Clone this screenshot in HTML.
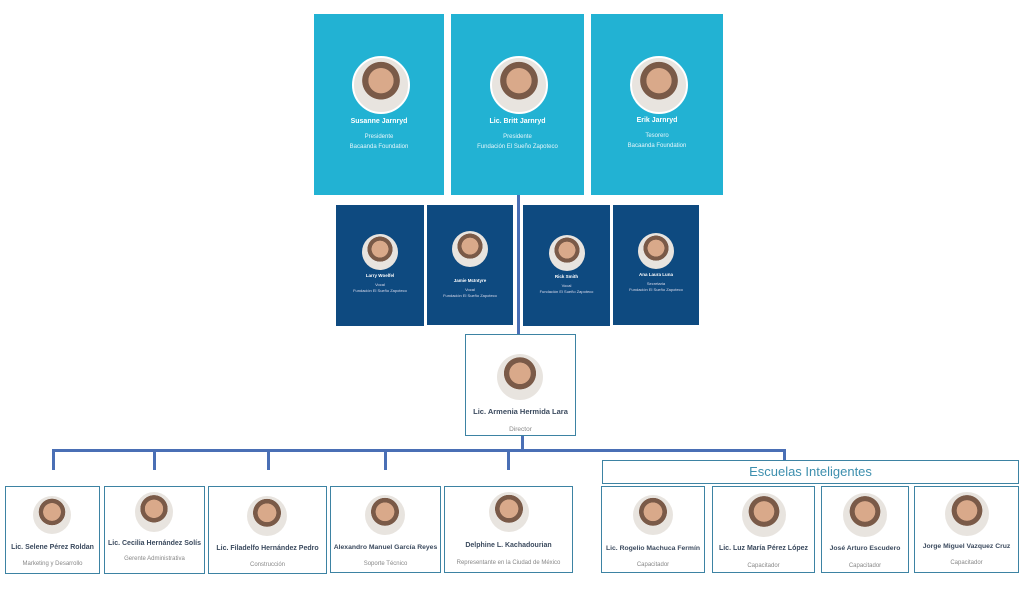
<!DOCTYPE html>
<html><head><meta charset="utf-8"><style>
body{margin:0;width:1024px;height:598px;background:#fff;position:relative;overflow:hidden;font-family:"Liberation Sans",sans-serif}
.a{position:absolute;box-sizing:border-box}
.t{background:#22b2d3;color:#fff;text-align:center}
.d{background:#0e4a80;color:#fff;text-align:center}
.w{border:1.5px solid #3d83a3;background:#fff;text-align:center}
.av{position:absolute;border-radius:50%;background:radial-gradient(circle at 50% 42%,#d9a98a 0 30%,#7a5a48 31% 45%,#e8e4df 46%);border:2px solid #fff}
.ln{position:absolute;background:#4a6fb5}
.n{position:absolute;left:0;right:0;font-weight:bold;color:#3b4a5e;font-size:7.5px;white-space:nowrap}
.s{position:absolute;left:0;right:0;color:#888;font-size:6.5px;white-space:nowrap}
</style></head><body>
<!-- top cards -->
<div class="a t" style="left:314px;top:14px;width:130px;height:181px"><div class="av" style="left:38px;top:42px;width:54px;height:54px"></div><div class="n" style="top:104px;color:#fff;font-size:7px">Susanne Jarnryd</div><div class="s" style="top:118px;color:#e6f6fb;font-size:6px;line-height:10px">Presidente<br>Bacaanda Foundation</div></div>
<div class="a t" style="left:451px;top:14px;width:133px;height:181px"><div class="av" style="left:39px;top:42px;width:54px;height:54px"></div><div class="n" style="top:104px;color:#fff;font-size:7px">Lic. Britt Jarnryd</div><div class="s" style="top:118px;color:#e6f6fb;font-size:6px;line-height:10px">Presidente<br>Fundación El Sueño Zapoteco</div></div>
<div class="a t" style="left:591px;top:14px;width:132px;height:181px"><div class="av" style="left:39px;top:42px;width:54px;height:54px"></div><div class="n" style="top:103px;color:#fff;font-size:7px">Erik Jarnryd</div><div class="s" style="top:117px;color:#e6f6fb;font-size:6px;line-height:10px">Tesorero<br>Bacaanda Foundation</div></div>
<!-- vertical line -->
<div class="ln" style="left:517px;top:195px;width:3px;height:140px"></div>
<!-- dark cards -->
<div class="a d" style="left:336px;top:205px;width:88px;height:121px"><div class="av" style="left:26px;top:29px;width:36px;height:36px;border:0"></div><div class="n" style="top:68px;color:#fff;font-size:4.5px">Larry Woelfel</div><div class="s" style="top:77px;color:#dde;font-size:4px;line-height:6px">Vocal<br>Fundación El Sueño Zapoteco</div></div>
<div class="a d" style="left:427px;top:205px;width:86px;height:120px"><div class="av" style="left:25px;top:26px;width:36px;height:36px;border:0"></div><div class="n" style="top:73px;color:#fff;font-size:4.5px">Jamie McIntyre</div><div class="s" style="top:82px;color:#dde;font-size:4px;line-height:6px">Vocal<br>Fundación El Sueño Zapoteco</div></div>
<div class="a d" style="left:523px;top:205px;width:87px;height:121px"><div class="av" style="left:26px;top:30px;width:36px;height:36px;border:0"></div><div class="n" style="top:69px;color:#fff;font-size:4.5px">Rick Smith</div><div class="s" style="top:78px;color:#dde;font-size:4px;line-height:6px">Vocal<br>Fundación El Sueño Zapoteco</div></div>
<div class="a d" style="left:613px;top:205px;width:86px;height:120px"><div class="av" style="left:25px;top:28px;width:36px;height:36px;border:0"></div><div class="n" style="top:67px;color:#fff;font-size:4.5px">Ana Laura Luna</div><div class="s" style="top:76px;color:#dde;font-size:4px;line-height:6px">Secretaria<br>Fundación El Sueño Zapoteco</div></div>
<!-- director -->
<div class="a w" style="left:465px;top:334px;width:111px;height:102px"><div class="av" style="left:31px;top:19px;width:46px;height:46px;border:0"></div><div class="n" style="top:72px">Lic. Armenia Hermida Lara</div><div class="s" style="top:91px">Director</div></div>
<!-- connectors -->
<div class="ln" style="left:521px;top:436px;width:3px;height:15px"></div>
<div class="ln" style="left:52px;top:449px;width:734px;height:3px"></div>
<div class="ln" style="left:52px;top:449px;width:3px;height:21px"></div>
<div class="ln" style="left:153px;top:449px;width:3px;height:21px"></div>
<div class="ln" style="left:267px;top:449px;width:3px;height:21px"></div>
<div class="ln" style="left:384px;top:449px;width:3px;height:21px"></div>
<div class="ln" style="left:507px;top:449px;width:3px;height:21px"></div>
<div class="ln" style="left:783px;top:449px;width:3px;height:12px"></div>
<!-- bottom row -->
<div class="a w" style="left:5px;top:486px;width:95px;height:88px"><div class="av" style="left:27px;top:9px;width:38px;height:38px;border:0"></div><div class="n" style="top:57px;font-size:7px">Lic. Selene Pérez Roldan</div><div class="s" style="top:74px;font-size:6px">Marketing y Desarrollo</div></div>
<div class="a w" style="left:104px;top:486px;width:101px;height:88px"><div class="av" style="left:30px;top:5px;width:38px;height:40px;border:0"></div><div class="n" style="top:53px;font-size:7px">Lic. Cecilia Hernández Solís</div><div class="s" style="top:69px;font-size:6px">Gerente Administrativa</div></div>
<div class="a w" style="left:208px;top:486px;width:119px;height:88px"><div class="av" style="left:38px;top:9px;width:40px;height:40px;border:0"></div><div class="n" style="top:58px;font-size:7px">Lic. Filadelfo Hernández Pedro</div><div class="s" style="top:75px;font-size:6px">Construcción</div></div>
<div class="a w" style="left:330px;top:486px;width:111px;height:87px"><div class="av" style="left:34px;top:8px;width:40px;height:40px;border:0"></div><div class="n" style="top:57px;font-size:6.8px">Alexandro Manuel García Reyes</div><div class="s" style="top:74px;font-size:6px">Soporte Técnico</div></div>
<div class="a w" style="left:444px;top:486px;width:129px;height:87px"><div class="av" style="left:44px;top:5px;width:40px;height:40px;border:0"></div><div class="n" style="top:55px;font-size:7px">Delphine L. Kachadourian</div><div class="s" style="top:73px;font-size:6px">Representante en la Ciudad de México</div></div>
<!-- Escuelas -->
<div class="a w" style="left:602px;top:460px;width:417px;height:24px;font-size:13px;color:#3d8fae;line-height:22px">Escuelas Inteligentes</div>
<div class="a w" style="left:601px;top:486px;width:104px;height:87px"><div class="av" style="left:31px;top:8px;width:40px;height:40px;border:0"></div><div class="n" style="top:58px;font-size:6.8px">Lic. Rogelio Machuca Fermín</div><div class="s" style="top:75px;font-size:6px">Capacitador</div></div>
<div class="a w" style="left:712px;top:486px;width:103px;height:87px"><div class="av" style="left:29px;top:6px;width:44px;height:44px;border:0"></div><div class="n" style="top:58px;font-size:7px">Lic. Luz María Pérez López</div><div class="s" style="top:76px;font-size:6px">Capacitador</div></div>
<div class="a w" style="left:821px;top:486px;width:88px;height:87px"><div class="av" style="left:21px;top:6px;width:44px;height:44px;border:0"></div><div class="n" style="top:58px;font-size:6.8px">José Arturo Escudero</div><div class="s" style="top:76px;font-size:6px">Capacitador</div></div>
<div class="a w" style="left:914px;top:486px;width:105px;height:87px"><div class="av" style="left:30px;top:5px;width:44px;height:44px;border:0"></div><div class="n" style="top:56px;font-size:6.8px">Jorge Miguel Vazquez Cruz</div><div class="s" style="top:73px;font-size:6px">Capacitador</div></div>
</body></html>
